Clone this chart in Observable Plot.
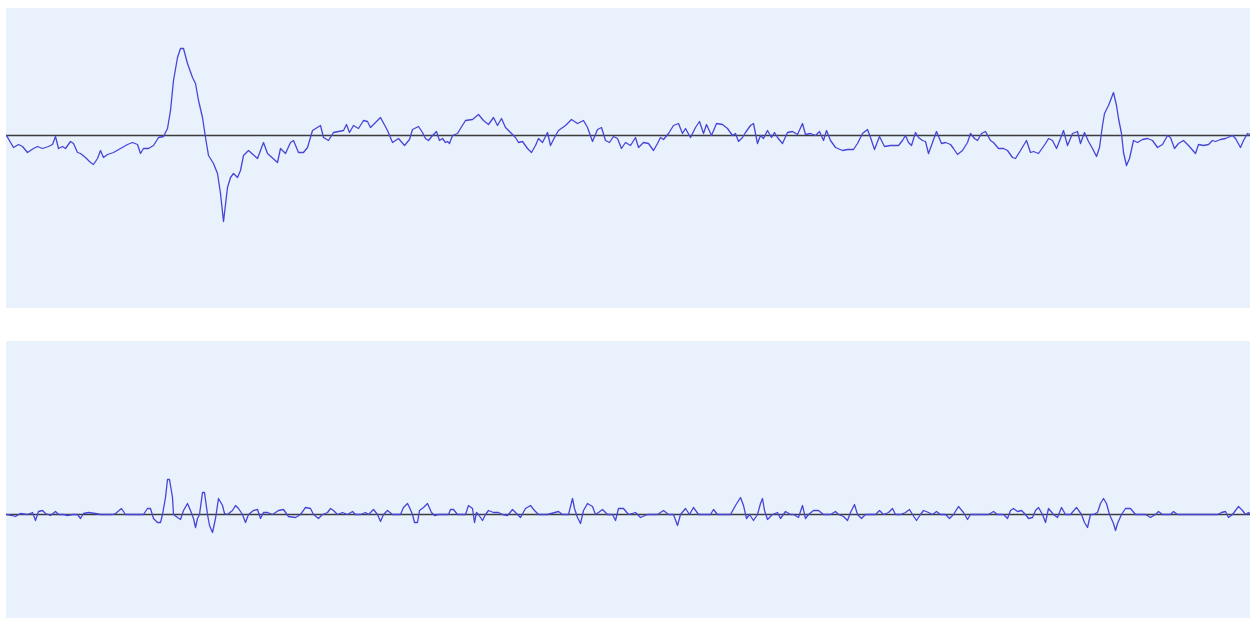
<!DOCTYPE html>
<html>
<head>
<meta charset="utf-8">
<script src="https://cdn.jsdelivr.net/npm/d3@7"></script>
<script src="https://cdn.jsdelivr.net/npm/@observablehq/plot@0.6"></script>
<style>
  html, body { margin: 0; padding: 0; background: #ffffff; width: 1250px; height: 619px; overflow: hidden; }
  #top { position: absolute; left: 6px; top: 8px; }
  #bottom { position: absolute; left: 6px; top: 341px; }
  svg { display: block; }
</style>
</head>
<body>
<div id="top"></div>
<div id="bottom"></div>
<script>
// Top panel: original signal (sample time, amplitude)
const topT = [6,13,18,22,27,33,37,42,48,52,55,58,62,65,70,73,77,80,85,90,93,97,100,103,107,113,120,127,132,137,140,143,148,153,158,163,167,170,173,177,180,183,187,192,195,198,202,205,208,213,217,220,223,227,230,233,237,240,243,248,257,263,267,277,280,285,290,293,298,303,307,312,320,323,328,333,343,346,349,353,358,363,367,370,380,387,392,398,404,409,412,418,422,425,428,432,436,439,442,445,447,449,452,457,460,465,472,478,483,488,493,497,501,505,510,515,518,522,527,531,535,538,542,547,550,554,558,565,571,577,583,587,592,597,601,605,609,613,617,621,625,630,635,638,643,648,653,657,660,663,668,673,678,682,685,690,695,699,703,706,711,716,722,727,732,735,738,742,745,750,753,757,760,763,767,771,774,777,782,787,792,797,802,805,810,815,819,823,826,830,835,842,847,853,857,862,867,870,874,879,884,890,898,902,905,908,911,915,918,922,925,928,932,936,941,945,950,953,957,962,967,970,974,977,981,985,990,993,998,1003,1007,1012,1015,1020,1026,1030,1033,1038,1045,1048,1052,1056,1060,1063,1067,1072,1077,1080,1084,1088,1092,1096,1099,1102,1104,1108,1113,1116,1118,1121,1123,1126,1129,1133,1137,1142,1147,1152,1157,1162,1167,1170,1174,1178,1183,1188,1195,1198,1203,1208,1212,1215,1220,1225,1232,1235,1240,1243,1247,1250];
const topV = [0,-12,-9,-11,-17,-13,-11,-13,-11,-9,-1,-13,-11,-13,-6,-8,-17,-18,-22,-27,-29,-23,-15,-22,-19,-17,-13,-9,-7,-9,-18,-13,-13,-10,-2,-1,7,25,55,78,87,87,72,58,52,35,18,-2,-20,-28,-38,-58,-86,-52,-42,-38,-42,-35,-20,-15,-23,-7,-18,-27,-13,-18,-7,-5,-17,-17,-12,5,10,-2,-5,3,5,11,3,10,7,15,14,8,18,5,-7,-3,-10,-4,6,9,3,-3,-5,0,4,-5,-3,-7,-6,-8,0,2,7,15,16,21,15,11,18,10,17,8,3,-2,-7,-6,-13,-17,-10,-3,-7,3,-10,-2,5,10,16,12,15,8,-6,6,8,-5,-7,-1,-3,-13,-7,-10,-2,-12,-7,-8,-15,-8,-2,-4,2,10,12,2,7,-2,8,14,2,11,0,12,11,7,0,2,-6,-2,3,10,12,-8,0,-3,5,-2,3,-2,-8,3,4,1,12,1,2,0,4,-5,5,-5,-12,-15,-14,-14,-8,2,6,-2,-14,-1,-11,-10,-10,-5,0,-7,-10,3,-2,-5,-6,-18,-7,4,-8,-7,-9,-13,-19,-15,-7,2,-3,-5,2,4,-5,-7,-13,-13,-15,-22,-23,-15,-5,-17,-16,-18,-8,-3,-5,-13,-3,5,-10,2,4,-8,3,-6,-13,-21,-12,10,22,30,43,30,17,2,-17,-30,-23,-5,-7,-4,-3,-5,-12,-9,0,-2,-13,-8,-5,-10,-18,-9,-10,-9,-5,-6,-4,-3,0,-3,-12,-5,2,1];

// Bottom panel: detail component (sample time, amplitude)
const bottomT = [6,12,15,20,27,32,35,38,42,45,50,55,58,63,67,72,77,80,83,88,95,100,112,115,121,125,143,147,150,153,157,160,162,165,167,169,172,173,177,180,183,187,190,193,195,197,199,202,204,207,209,212,215,218,222,224,227,232,235,238,242,245,248,253,257,260,263,267,272,278,283,288,295,300,305,310,313,318,322,327,330,333,337,342,347,352,355,360,365,368,373,377,380,383,387,392,400,403,407,409,412,414,417,419,423,427,431,434,438,448,450,453,457,465,468,472,474,476,478,482,485,488,493,498,502,507,512,517,520,525,530,534,538,547,558,562,568,572,574,577,580,583,587,592,595,598,602,607,612,615,618,623,628,635,640,647,657,663,668,673,677,680,685,689,693,698,710,713,717,722,730,735,740,743,746,749,753,757,760,762,764,767,772,777,780,785,790,793,798,802,805,808,813,818,823,830,835,838,843,847,850,854,857,861,865,875,879,883,888,892,895,900,905,909,912,916,920,923,928,932,936,940,945,949,953,958,963,967,970,977,983,988,993,997,1003,1007,1010,1013,1017,1021,1025,1028,1032,1035,1038,1042,1045,1048,1053,1057,1061,1065,1070,1076,1081,1084,1087,1090,1093,1097,1100,1103,1106,1109,1113,1115,1117,1121,1125,1130,1135,1140,1145,1150,1155,1158,1162,1170,1173,1177,1183,1187,1192,1197,1203,1207,1212,1217,1221,1225,1228,1232,1235,1238,1242,1245,1248,1250];
const bottomV = [0,-1,-2,1,0,2,-6,3,4,1,-1,3,0,0,-1,0,0,-4,1,2,1,0,0,1,6,0,0,6,6,-4,-8,-8,0,17,35,35,17,0,-3,-5,4,11,4,-4,-13,-4,0,22,22,0,-11,-18,-4,16,9,1,0,4,9,6,0,-8,0,4,5,-4,2,2,0,4,5,-2,-3,0,7,6,0,-4,0,2,6,4,0,2,0,3,0,0,2,0,5,0,-7,0,4,0,0,7,11,7,0,-8,-8,4,7,11,2,-1,0,0,5,5,0,0,9,6,-8,2,0,-6,0,4,2,2,0,-1,5,0,-3,6,9,4,0,0,3,0,0,16,6,-3,-9,4,11,8,0,2,5,0,0,-6,6,6,0,2,-3,0,0,4,0,0,-11,0,6,0,7,0,0,5,0,0,0,9,17,9,-4,0,-6,0,11,16,4,-5,0,2,-4,3,0,0,-3,9,-4,0,4,4,0,0,3,0,-2,-6,2,10,0,-4,0,0,4,0,2,6,0,0,2,5,0,-6,0,4,2,0,3,0,0,-4,0,8,2,-5,0,0,0,0,3,0,0,-4,4,6,3,4,0,-4,-3,4,7,0,-8,6,0,-3,7,0,0,7,0,-8,-13,0,0,2,11,16,11,0,-9,-16,-9,0,6,6,0,0,0,-3,0,3,0,0,3,0,0,0,0,0,0,0,0,0,2,3,-3,0,4,8,4,0,2,0];

const topData = topT.map((t, i) => ({t, v: topV[i]}));
const bottomData = bottomT.map((t, i) => ({t, v: bottomV[i]}));

const bg = "#e9f1fd";
const lineColor = "#4646d6";
const zeroColor = "#3c3c3c";

function panel(data, height, yDomain) {
  return Plot.plot({
    width: 1244,
    height,
    margin: 0,
    marginTop: 0, marginBottom: 0, marginLeft: 0, marginRight: 0,
    style: {background: bg, overflow: "hidden"},
    x: {domain: [6, 1250], axis: null},
    y: {domain: yDomain, axis: null},
    marks: [
      Plot.ruleY([0], {stroke: zeroColor, strokeWidth: 1.6}),
      Plot.line(data, {x: "t", y: "v", stroke: lineColor, strokeWidth: 1.3, strokeLinejoin: "round"})
    ]
  });
}

document.getElementById("top").appendChild(panel(topData, 300, [-173, 127]));
document.getElementById("bottom").appendChild(panel(bottomData, 277, [-104, 173]));
</script>
</body>
</html>
